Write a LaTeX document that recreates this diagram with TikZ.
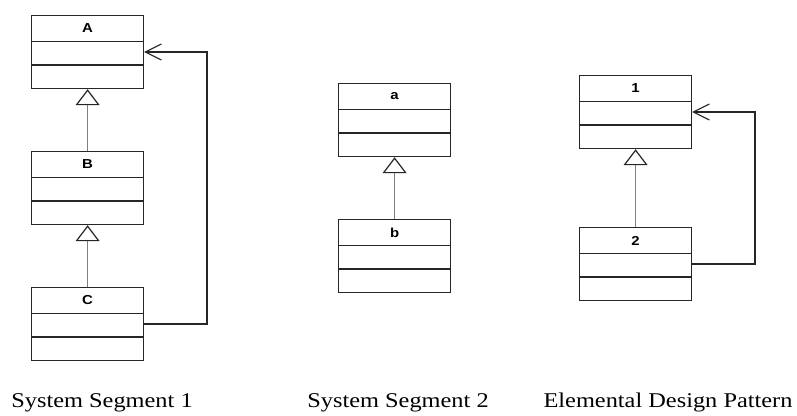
\documentclass[tikz,border=0pt]{standalone}
\usepackage{fontspec}
\setmainfont{Liberation Serif}
\newfontfamily\classfont{Liberation Sans}
\usetikzlibrary{arrows.meta}
\tikzset{
 classbox/.style={draw=black!85, line width=1.2pt, minimum width=112pt, minimum height=73pt, inner sep=0pt, anchor=north west},
 divider/.style={draw=black!85, line width=1.1pt},
 inherit/.style={draw=black!50, line width=1.6pt, -{Triangle[fill=white, color=black!85, length=16pt, width=24pt, line width=1.2pt]}},
 assoc/.style={draw=black!85, line width=1.1pt, -{Straight Barb[length=16pt, width=16pt, line width=1.1pt]}},
 classname/.style={font=\classfont\bfseries\fontsize{13}{15}\selectfont, inner sep=0pt},
 caption/.style={font=\fontsize{21}{25}\selectfont, anchor=base, inner sep=0pt}
}
\newcommand\umlclass[4]{%
  \node[classbox] (#1) at (#2,#3) {};
  \draw[divider] ([yshift=-26.5pt]#1.north west) -- ([yshift=-26.5pt]#1.north east);
  \draw[divider] ([yshift=-50pt]#1.north west) -- ([yshift=-50pt]#1.north east);
  \node[classname] (#1-name) at ([yshift=-13.5pt]#1.north) {\scalebox{1.15}[1]{#4}};
  \coordinate (#1-mid) at ([yshift=-37pt]#1.north east);
}
\begin{document}
\begin{tikzpicture}[x=1pt,y=-1pt]
\fill[white] (0,0) rectangle (797,415);
\useasboundingbox (0,0) rectangle (797,415);

% System Segment 1
\umlclass{A}{31}{15}{A}
\umlclass{B}{31}{151}{B}
\umlclass{C}{31}{287}{C}
\draw[inherit] (B.north) -- (A.south);
\draw[inherit] (C.north) -- (B.south);
\coordinate (route1) at (207,0);
\draw[assoc] (C-mid) -- (C-mid -| route1) |- (A-mid);

% System Segment 2
\umlclass{a}{338}{83}{a}
\umlclass{b}{338}{219}{b}
\draw[inherit] (b.north) -- (a.south);

% Elemental Design Pattern
\umlclass{c1}{579}{75}{1}
\umlclass{c2}{579}{227}{2}
\draw[inherit] (c2.north) -- (c1.south);
\coordinate (route3) at (755,0);
\draw[assoc] (c2-mid) -- (c2-mid -| route3) |- (c1-mid);

% captions
\node[caption] (cap1) at (102,407) {\scalebox{1.16}[1]{System Segment 1}};
\node[caption] (cap2) at (398,407) {\scalebox{1.16}[1]{System Segment 2}};
\node[caption] (cap3) at (668,407) {\scalebox{1.16}[1]{Elemental Design Pattern}};
\end{tikzpicture}
\end{document}
